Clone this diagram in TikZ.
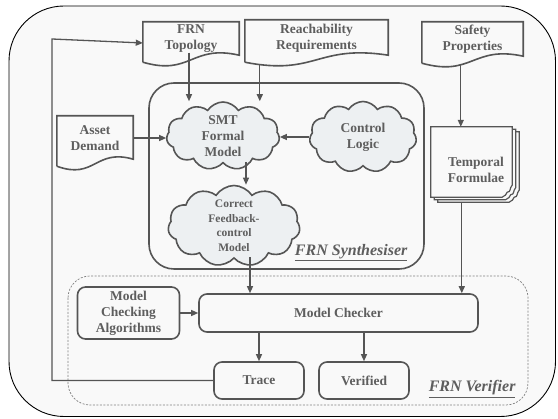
\documentclass[tikz,border=0pt]{standalone}
\usepackage{fontspec}
\setmainfont{Liberation Serif}
\usetikzlibrary{shapes.symbols,arrows.meta,calc}

\definecolor{bgfill}{HTML}{F9F9F9}
\definecolor{edge}{HTML}{555555}
\definecolor{ink}{HTML}{5E5E5E}
\definecolor{cloudfill}{HTML}{EDF0F2}
\definecolor{dashc}{HTML}{808080}

% outline of a document symbol drawn round a named (invisible) node
\newcommand\docshape[1]{%
  \draw[line] ([yshift=-6pt]#1.south west) -- (#1.north west) -- (#1.north east)
    -- ([yshift=1pt]#1.south east)
    .. controls ($(#1.south)+(0,-12)$) and ($(#1.south)+(0,20)$) .. ([yshift=-6pt]#1.south west);}

% one sheet of the stacked-document symbol, shifted by (#2,#3)
\newcommand\sheet[3]{%
  \draw[edge, line width=1.2pt, fill=bgfill]
    ([shift={(#2,#3)}]#1.north west) -- ([shift={(#2,#3)}]#1.north east)
    -- ([shift={(#2,#3-12)}]#1.south east)
    .. controls ([shift={(#2-3,#3-9)}]#1.south east) and ([shift={(#2-1,#3-5)}]#1.south east)
    .. ([shift={(#2-5,#3-5)}]#1.south east)
    .. controls ([shift={(#2-6,#3-3)}]#1.south east) and ([shift={(#2-7,#3-1)}]#1.south east)
    .. ([shift={(#2-10,#3)}]#1.south east)
    -- ([shift={(#2,#3)}]#1.south west) -- cycle;}

\begin{document}
\begin{tikzpicture}[x=1pt,y=-1pt,
  line/.style={draw=edge, line width=1.6pt},
  arr/.style={draw=edge, line width=1.3pt, -{Triangle[length=7pt,width=6pt]}},
  lbl/.style={text=ink, font=\fontsize{13.5}{16}\selectfont\bfseries, align=center},
  docbox/.style={rectangle, inner sep=0pt, lbl},
  rbox/.style={rectangle, rounded corners=8pt, line, fill=bgfill, inner sep=0pt, lbl},
  cloudnode/.style={cloud, cloud puffs=11, cloud puff arc=115, cloud ignores aspect,
    line, fill=cloudfill, inner sep=0pt, lbl},
  title/.style={text=ink, font=\fontsize{16}{18}\selectfont\bfseries\itshape},
]
\useasboundingbox (0,0) rectangle (558,419);

% outer frame
\draw[black, line width=0.9pt, fill=bgfill, rounded corners=55pt] (9,6) rectangle (555.5,416.5);

% synthesiser container
\draw[line, rounded corners=25pt] (149,83) rectangle (424,269);

% verifier container
\draw[dashc, line width=0.7pt, dash pattern=on 2pt off 1.5pt, rounded corners=22pt] (68,276) rectangle (528,405);

% inputs (document symbols)
\node[docbox, minimum width=96pt, minimum height=34pt] (topo) at (191,39) {FRN\\Topology};
\docshape{topo}
\node[docbox, minimum width=143pt, minimum height=36pt] (reach) at (316.5,38) {Reachability\\Requirements};
\docshape{reach}
\node[docbox, minimum width=101pt, minimum height=35pt] (safety) at (472.5,39.5) {Safety\\Properties};
\docshape{safety}
\node[docbox, minimum width=76pt, minimum height=44pt] (asset) at (95,138) {Asset\\Demand};
\docshape{asset}

% temporal formulae (stacked documents)
\node[rectangle, inner sep=0pt, minimum width=81pt, minimum height=70pt] (tf) at (471.5,162) {};
\sheet{tf}{7}{5}
\sheet{tf}{3.5}{2.5}
\sheet{tf}{0}{0}
\node[lbl] (tftext) at (476,170) {Temporal\\Formulae};

% clouds
\node[cloudnode, minimum width=113pt, minimum height=68pt] (smt) at (223,136) {SMT\\Formal\\Model};
\node[cloudnode, minimum width=107pt, minimum height=71pt] (ctrl) at (363,137) {Control\\Logic};
\node[cloudnode, font=\fontsize{11.5}{14.5}\selectfont\bfseries, minimum width=132pt, minimum height=81pt] (corr) at (234,226) {Correct\\Feedback-\\control\\Model};

% verifier boxes
\node[rbox, minimum width=279pt, minimum height=38pt] (mc) at (338.5,313) {Model Checker};
\node[rbox, minimum width=102pt, minimum height=52pt] (mca) at (128.5,313) {Model\\Checking\\Algorithms};
\node[rbox, minimum width=90pt, minimum height=37pt] (trace) at (259,380.5) {Trace};
\node[rbox, minimum width=90pt, minimum height=37pt] (verif) at (364,380.5) {Verified};

% part titles
\node[title, anchor=east] (synlabel) at (411,253) {\underline{FRN Synthesiser}};
\node[title, anchor=east] (verlabel) at (519,389) {\underline{FRN Verifier}};

% connectors
\coordinate (topout) at ([shift={(-2,-3.5)}]topo.south);
\draw[arr] (topout) -- (topout |- smt.north);
\coordinate (reachout) at ($(reach.south west)+(15,8)$);
\draw[arr] (reachout) -- (reachout |- smt.north);
\draw[arr] (asset.east) -- (asset.east -| smt.west);
\draw[arr] (ctrl.west) -- (ctrl.west -| smt.east);
\coordinate (smtout) at ($(smt.south)+(23,-2)$);
\draw[arr] (smtout) -- (smtout |- corr.north);
\coordinate (corrout) at ($(corr.south)+(16,-2)$);
\draw[arr] (corrout) -- (corrout |- mc.north);
\coordinate (safeout) at ($(safety.south west)+(39,7)$);
\draw[arr] (safeout) -- (safeout |- tf.north);
\coordinate (tfout) at ($(tf.south west)+(31,5)$);
\draw[arr] (tfout) -- (tfout |- mc.north);
\draw[arr] (mca.east) -- (mca.east -| mc.west);
\draw[arr] (trace.north |- mc.south) -- (trace.north);
\draw[arr] (verif.north |- mc.south) -- (verif.north);
\coordinate (loopx) at (52,0);
\draw[arr] (trace.west) -- (trace.west -| loopx) -- (loopx |- topo.west) -- ([yshift=-4pt]topo.west);
\end{tikzpicture}
\end{document}
